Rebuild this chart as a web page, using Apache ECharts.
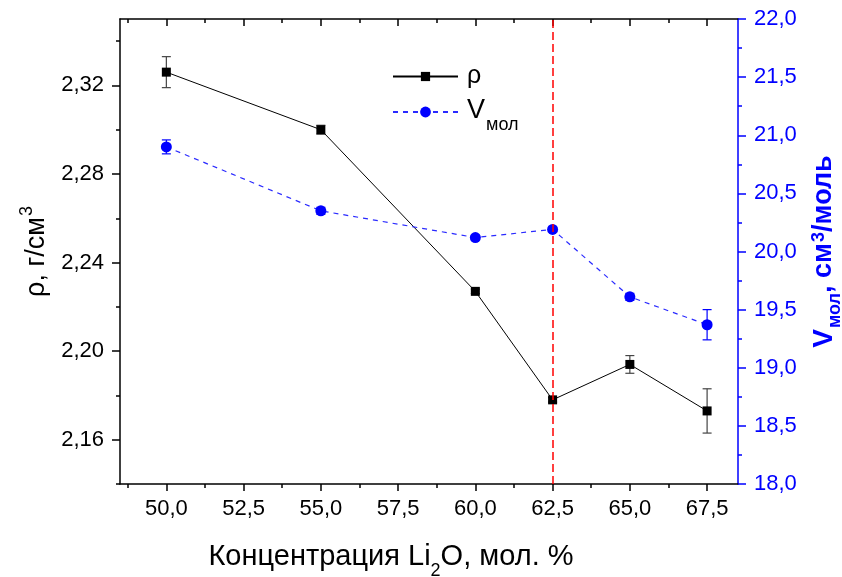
<!DOCTYPE html>
<html>
<head>
<meta charset="utf-8">
<script src="https://cdn.jsdelivr.net/npm/echarts@6/dist/echarts.min.js"></script>
<style>
  html, body { margin: 0; padding: 0; background: #fff; }
  #chart { width: 842px; height: 577px; }
</style>
</head>
<body>
<div id="chart"></div>
<script>
// Li2O concentration, mol. %
const concentration = [50, 55, 60, 62.5, 65, 67.5];
// density, g/cm3, with its error
const density = [2.326, 2.300, 2.227, 2.178, 2.194, 2.173];
const densityErr = [0.007, 0.002, 0.001, 0.001, 0.004, 0.010];
// molar volume, cm3/mol, with its error
const molarVolume = [20.90, 20.35, 20.12, 20.19, 19.61, 19.37];
const molarVolumeErr = [0.06, 0.03, 0.02, 0.02, 0.03, 0.13];
// composition marked by the vertical dashed line
const transitionMark = [62.5];

// tick positions
const xMajorTicks = [50, 52.5, 55, 57.5, 60, 62.5, 65, 67.5];
const xMinorTicks = [48.75, 51.25, 53.75, 56.25, 58.75, 61.25, 63.75, 66.25];
const rhoMajorTicks = [2.16, 2.20, 2.24, 2.28, 2.32];
const rhoMinorTicks = [2.14, 2.18, 2.22, 2.26, 2.30, 2.34];

const FONT = 'Liberation Sans, Arial, sans-serif';
const BLUE = '#0000ff';

const chart = echarts.init(document.getElementById('chart'), null, { renderer: 'canvas' });

const comma = (v, d) => v.toFixed(d).replace('.', ',');

function errorBars(values, errs) {
  return concentration.map((x, i) => [x, values[i] - errs[i], values[i] + errs[i]]);
}

function renderErrorBar(color) {
  return function (params, api) {
    const x = api.value(0);
    const lo = api.coord([x, api.value(1)]);
    const hi = api.coord([x, api.value(2)]);
    const half = 4.5;
    const style = { stroke: color, lineWidth: 1.2 };
    return {
      type: 'group',
      children: [
        { type: 'line', shape: { x1: lo[0], y1: lo[1], x2: hi[0], y2: hi[1] }, style },
        { type: 'line', shape: { x1: lo[0] - half, y1: lo[1], x2: lo[0] + half, y2: lo[1] }, style },
        { type: 'line', shape: { x1: hi[0] - half, y1: hi[1], x2: hi[0] + half, y2: hi[1] }, style }
      ]
    };
  };
}

const xCommon = { type: 'value', min: 48.5, max: 68.5, splitLine: { show: false } };
const blackLine = { show: true, lineStyle: { color: '#000', width: 1.5 } };

const option = {
  animation: false,
  backgroundColor: '#fff',
  textStyle: { fontFamily: FONT },
  grid: { left: 120, right: 104, top: 19, bottom: 93, containLabel: false, outerBoundsMode: 'none' },
  legend: [
    {
      data: ['ρ'], left: 392, top: 64, orient: 'vertical', padding: 0,
      itemWidth: 65, itemHeight: 11.5,
      textStyle: { fontFamily: FONT, fontSize: 25, color: '#000', padding: [0, 0, 0, 4] }
    },
    {
      data: ['Vмол'], left: 392, top: 97, orient: 'vertical', padding: 0,
      itemWidth: 65, itemHeight: 13.5,
      formatter: () => '{v|V}{s|мол}',
      textStyle: {
        fontFamily: FONT, color: '#000', padding: [0, 0, 0, 4],
        rich: {
          v: { fontSize: 27, fontFamily: FONT, color: '#000', lineHeight: 30, verticalAlign: 'top' },
          s: { fontSize: 18, fontFamily: FONT, color: '#000', lineHeight: 18, verticalAlign: 'top', padding: [19, 0, 0, 1] }
        }
      }
    }
  ],
  xAxis: [
    {
      ...xCommon, position: 'bottom',
      name: '{t|Концентрация Li}{s|2}{t|O, мол. %}',
      nameLocation: 'middle', nameGap: 58,
      nameTextStyle: {
        padding: [0, 76, 0, 0],
        rich: {
          t: { fontSize: 29, fontFamily: FONT, color: '#000', lineHeight: 34, verticalAlign: 'top' },
          s: { fontSize: 18, fontFamily: FONT, color: '#000', lineHeight: 18, verticalAlign: 'top', padding: [20, 0, 0, 0] }
        }
      },
      axisLine: blackLine,
      axisTick: { show: true, inside: false, length: 7, customValues: xMajorTicks, lineStyle: { color: '#000', width: 1.5 } },
      axisLabel: { show: true, customValues: xMajorTicks, margin: 14, fontSize: 22, fontFamily: FONT, color: '#000', formatter: v => comma(v, 1) }
    },
    {
      ...xCommon, position: 'bottom',
      axisLine: { show: false },
      axisTick: { show: true, inside: false, length: 4, customValues: xMinorTicks, lineStyle: { color: '#000', width: 1.5 } },
      axisLabel: { show: false }
    },
    {
      ...xCommon, position: 'top',
      axisLine: blackLine,
      axisTick: { show: true, inside: true, length: 7, customValues: xMajorTicks, lineStyle: { color: '#000', width: 1.5 } },
      axisLabel: { show: false }
    },
    {
      ...xCommon, position: 'top',
      axisLine: { show: false },
      axisTick: { show: true, inside: true, length: 4, customValues: xMinorTicks, lineStyle: { color: '#000', width: 1.5 } },
      axisLabel: { show: false }
    }
  ],
  yAxis: [
    {
      type: 'value', position: 'left', min: 2.14, max: 2.35,
      splitLine: { show: false },
      name: '{t|ρ, г/см}{p|3}',
      nameLocation: 'middle', nameGap: 68,
      nameTextStyle: {
        rich: {
          t: { fontSize: 27, fontFamily: FONT, color: '#000', lineHeight: 32, verticalAlign: 'bottom' },
          p: { fontSize: 18, fontFamily: FONT, color: '#000', lineHeight: 18, verticalAlign: 'bottom', padding: [0, 0, 14, 1] }
        }
      },
      axisLine: blackLine,
      axisTick: { show: true, inside: false, length: 8, customValues: rhoMajorTicks, lineStyle: { color: '#000', width: 1.5 } },
      axisLabel: { show: true, customValues: rhoMajorTicks, margin: 16, fontSize: 22, fontFamily: FONT, color: '#000', formatter: v => comma(v, 2) }
    },
    {
      type: 'value', position: 'left', min: 2.14, max: 2.35,
      splitLine: { show: false },
      axisLine: { show: false },
      axisTick: { show: true, inside: false, length: 4, customValues: rhoMinorTicks, lineStyle: { color: '#000', width: 1.5 } },
      axisLabel: { show: false }
    },
    {
      type: 'value', position: 'right', min: 18, max: 22, interval: 0.5,
      splitLine: { show: false },
      name: '{v|V}{s|мол}{t|, см}{p|3}{t|/моль}',
      nameLocation: 'middle', nameGap: 72,
      nameTextStyle: {
        rich: {
          v: { fontSize: 28, fontWeight: 'bold', fontFamily: FONT, color: BLUE, lineHeight: 32, verticalAlign: 'top' },
          t: { fontSize: 27, fontWeight: 'bold', fontFamily: FONT, color: BLUE, lineHeight: 32, verticalAlign: 'top' },
          s: { fontSize: 18, fontWeight: 'bold', fontFamily: FONT, color: BLUE, lineHeight: 18, verticalAlign: 'top', padding: [16, 0, 0, 1] },
          p: { fontSize: 18, fontWeight: 'bold', fontFamily: FONT, color: BLUE, lineHeight: 18, verticalAlign: 'top', padding: [0, 0, 0, 1] }
        }
      },
      axisLine: { show: true, lineStyle: { color: BLUE, width: 1.5 } },
      axisTick: { show: true, inside: false, length: 8, lineStyle: { color: BLUE, width: 1.5 } },
      minorTick: { show: true, splitNumber: 2, length: 4, lineStyle: { color: BLUE, width: 1.5 } },
      axisLabel: { show: true, margin: 16, fontSize: 22, fontFamily: FONT, color: BLUE, formatter: v => comma(v, 1) }
    }
  ],
  series: [
    {
      type: 'custom', name: 'ρ err', xAxisIndex: 0, yAxisIndex: 0, z: 2,
      renderItem: renderErrorBar('#444'),
      encode: { x: 0, y: [1, 2] },
      data: errorBars(density, densityErr)
    },
    {
      type: 'custom', name: 'V err', xAxisIndex: 0, yAxisIndex: 2, z: 2,
      renderItem: renderErrorBar(BLUE),
      encode: { x: 0, y: [1, 2] },
      data: errorBars(molarVolume, molarVolumeErr)
    },
    {
      type: 'line', name: 'ρ', xAxisIndex: 0, yAxisIndex: 0, z: 3,
      data: concentration.map((x, i) => [x, density[i]]),
      symbol: 'rect', symbolSize: 9,
      itemStyle: { color: '#000' },
      lineStyle: { color: '#000', width: 1 }
    },
    {
      type: 'line', name: 'Vмол', xAxisIndex: 0, yAxisIndex: 2, z: 3,
      data: concentration.map((x, i) => [x, molarVolume[i]]),
      symbol: 'circle', symbolSize: 11,
      itemStyle: { color: BLUE },
      lineStyle: { color: '#2a2aff', width: 1.2, type: [5, 5] }
    },
    {
      type: 'line', name: 'mark', xAxisIndex: 0, yAxisIndex: 0, z: 10,
      data: [],
      markLine: {
        silent: true, symbol: ['none', 'none'], label: { show: false },
        lineStyle: { color: '#ff0000', width: 1.5, type: [8, 4] },
        data: transitionMark.map(v => ({ xAxis: v }))
      }
    }
  ]
};

chart.setOption(option);
</script>
</body>
</html>
